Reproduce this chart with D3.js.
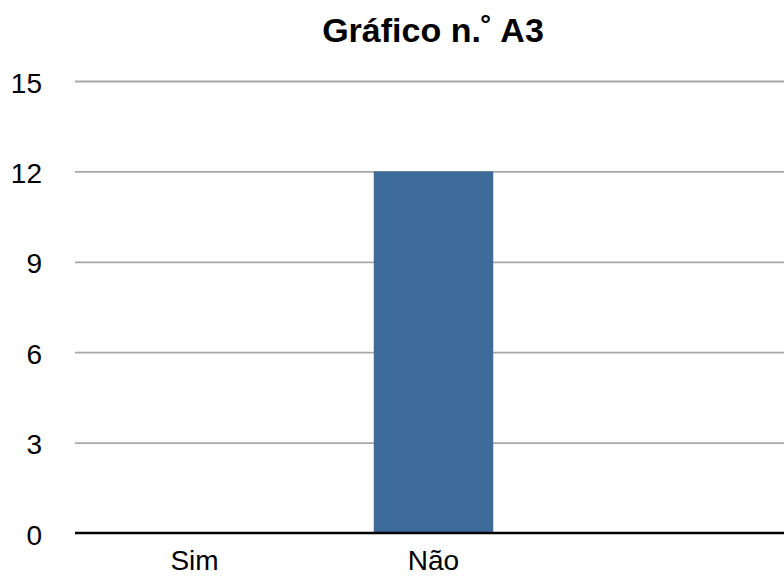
<!DOCTYPE html>
<html><head><meta charset="utf-8">
<script src="https://cdn.jsdelivr.net/npm/d3@7"></script>
<style>body{margin:0;background:#fff}svg{display:block}</style>
</head><body>
<svg id="c" width="784" height="576"></svg>
<script>
const categories = ["Sim", "Não", ""];
const values = [0, 12, 0];
const yTicks = [0, 3, 6, 9, 12, 15];
const title = "Gráfico n.˚ A3";

const svg = d3.select("#c");
const font = "'Liberation Sans', Arial, Helvetica, sans-serif";
const x = d3.scaleBand().domain(categories).range([75, 792]).paddingInner(0.5).paddingOuter(0.25);
const y = d3.scaleLinear().domain([0, 15]).range([533, 81]);

svg.append("text").attr("x", 433).attr("y", 42).attr("text-anchor", "middle")
  .attr("font-family", font).attr("font-weight", "bold").attr("font-size", 34).text(title);

const grid = svg.append("g").attr("transform", "translate(75,0)")
  .call(d3.axisLeft(y).tickValues(yTicks.filter(v => v > 0)).tickSize(-720).tickFormat(""));
grid.select(".domain").remove();
grid.selectAll("line").attr("stroke", "#a8a8a8").attr("stroke-width", 1.8);

svg.selectAll("rect.bar").data(values).join("rect").attr("class", "bar")
  .attr("x", (d, i) => x(categories[i])).attr("width", x.bandwidth())
  .attr("y", d => y(d)).attr("height", d => y(0) - y(d)).attr("fill", "#3d6c9b");

const ya = svg.append("g").attr("transform", "translate(42,1)")
  .call(d3.axisLeft(y).tickValues(yTicks).tickSize(0).tickPadding(0));
ya.select(".domain").remove();
ya.selectAll("text").attr("font-family", font).attr("font-size", 28).attr("fill", "#000").attr("dy", "0.36em");

svg.append("line").attr("x1", 75).attr("x2", 784).attr("y1", y(0)).attr("y2", y(0))
  .attr("stroke", "#000").attr("stroke-width", 2.5);

const xa = svg.append("g").attr("transform", `translate(0,${y(0)})`)
  .call(d3.axisBottom(x).tickSize(0).tickPadding(0));
xa.select(".domain").remove();
xa.selectAll("text").attr("font-family", font).attr("font-size", 28).attr("fill", "#000")
  .attr("dy", null).attr("y", 37);
</script>
</body></html>
